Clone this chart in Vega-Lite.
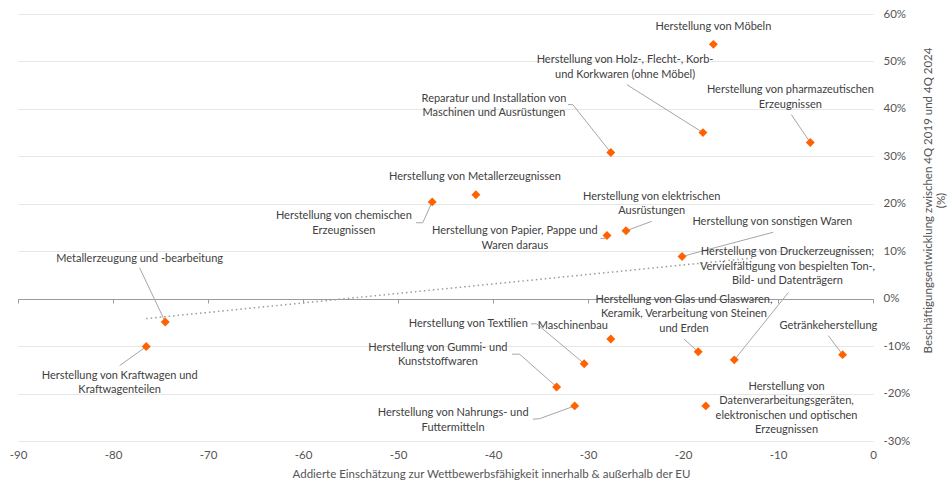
{
  "$schema": "https://vega.github.io/schema/vega-lite/v6.json",
  "width": 855,
  "height": 427,
  "autosize": {"type": "none"},
  "padding": {"left": 18, "top": 14, "right": 78, "bottom": 44},
  "background": "white",
  "config": {
    "view": {"stroke": null},
    "font": "Lato",
    "axis": {"labelFont": "Lato", "titleFont": "Lato"}
  },
  "datasets": {
    "points": [
      {"name": "Möbel", "x": -16.8, "y": 53.6, "label": "Herstellung von Möbeln", "lx": -16.8, "ly": 57.2},
      {"name": "Holz", "x": -17.9, "y": 35.0, "label": "Herstellung von Holz-, Flecht-, Korb-\nund Korkwaren (ohne Möbel)", "lx": -26.1, "ly": 50.2},
      {"name": "Pharma", "x": -6.6, "y": 32.9, "label": "Herstellung von pharmazeutischen\nErzeugnissen", "lx": -8.7, "ly": 43.9},
      {"name": "Reparatur", "x": -27.6, "y": 30.8, "label": "Reparatur und Installation von\nMaschinen und Ausrüstungen", "lx": -39.9, "ly": 42.1},
      {"name": "Metallerzeugnisse", "x": -41.8, "y": 21.9, "label": "Herstellung von Metallerzeugnissen", "lx": -41.9, "ly": 25.6},
      {"name": "Chemie", "x": -46.4, "y": 20.4, "label": "Herstellung von chemischen\nErzeugnissen", "lx": -55.7, "ly": 17.4},
      {"name": "Elektrisch", "x": -26.0, "y": 14.3, "label": "Herstellung von elektrischen\nAusrüstungen", "lx": -23.3, "ly": 21.5},
      {"name": "Papier", "x": -28.0, "y": 13.3, "label": "Herstellung von Papier, Pappe und\nWaren daraus", "lx": -37.7, "ly": 14.2},
      {"name": "Sonstige", "x": -20.1, "y": 8.9, "label": "Herstellung von sonstigen Waren", "lx": -10.6, "ly": 16.1},
      {"name": "Metallerzeugung", "x": -74.5, "y": -4.9, "label": "Metallerzeugung und -bearbeitung", "lx": -77.2, "ly": 8.4},
      {"name": "Kraftwagen", "x": -76.5, "y": -10.1, "label": "Herstellung von Kraftwagen und\nKraftwagenteilen", "lx": -79.3, "ly": -16.2},
      {"name": "Maschinenbau", "x": -27.6, "y": -8.5, "label": "Maschinenbau", "lx": -31.6, "ly": -5.8},
      {"name": "Textilien", "x": -30.4, "y": -13.7, "label": "Herstellung von Textilien", "lx": -42.6, "ly": -5.3},
      {"name": "Gummi", "x": -33.3, "y": -18.6, "label": "Herstellung von Gummi- und\nKunststoffwaren", "lx": -45.8, "ly": -10.3},
      {"name": "Nahrung", "x": -31.4, "y": -22.6, "label": "Herstellung von Nahrungs- und\nFuttermitteln", "lx": -44.2, "ly": -24.1},
      {"name": "Glas", "x": -18.4, "y": -11.2, "label": "Herstellung von Glas und Glaswaren,\nKeramik, Verarbeitung von Steinen\nund Erden", "lx": -19.9, "ly": -0.2},
      {"name": "Druck", "x": -14.6, "y": -12.9, "label": "Herstellung von Druckerzeugnissen;\nVervielfältigung von bespielten Ton-,\nBild- und Datenträgern", "lx": -9.0, "ly": 9.8},
      {"name": "Getränke", "x": -3.2, "y": -11.8, "label": "Getränkeherstellung", "lx": -4.7, "ly": -5.7},
      {"name": "Daten", "x": -17.6, "y": -22.6, "label": "Herstellung von\nDatenverarbeitungsgeräten,\nelektronischen und optischen\nErzeugnissen", "lx": -9.1, "ly": -18.6}
    ],
    "leaders": [
      {"name": "Holz", "o": 1, "x": -25.9, "y": 45.1}, {"name": "Holz", "o": 2, "x": -17.9, "y": 35.0},
      {"name": "Pharma", "o": 1, "x": -8.6, "y": 38.8}, {"name": "Pharma", "o": 2, "x": -6.6, "y": 32.9},
      {"name": "Reparatur", "o": 1, "x": -32.1, "y": 40.9}, {"name": "Reparatur", "o": 2, "x": -31.6, "y": 40.9}, {"name": "Reparatur", "o": 3, "x": -27.6, "y": 30.8},
      {"name": "Chemie", "o": 1, "x": -48.1, "y": 16.0}, {"name": "Chemie", "o": 2, "x": -47.4, "y": 16.0}, {"name": "Chemie", "o": 3, "x": -46.4, "y": 20.4},
      {"name": "Elektrisch", "o": 1, "x": -23.3, "y": 16.3}, {"name": "Elektrisch", "o": 2, "x": -26.0, "y": 14.3},
      {"name": "Papier", "o": 1, "x": -28.7, "y": 12.7}, {"name": "Papier", "o": 2, "x": -28.2, "y": 12.7}, {"name": "Papier", "o": 3, "x": -28.0, "y": 13.3},
      {"name": "Sonstige", "o": 1, "x": -10.5, "y": 14.0}, {"name": "Sonstige", "o": 2, "x": -20.1, "y": 8.9},
      {"name": "Metallerzeugung", "o": 1, "x": -77.2, "y": 6.5}, {"name": "Metallerzeugung", "o": 2, "x": -74.5, "y": -4.9},
      {"name": "Kraftwagen", "o": 1, "x": -79.3, "y": -14.1}, {"name": "Kraftwagen", "o": 2, "x": -76.5, "y": -10.1},
      {"name": "Textilien", "o": 1, "x": -36.0, "y": -5.3}, {"name": "Textilien", "o": 2, "x": -35.4, "y": -5.3}, {"name": "Textilien", "o": 3, "x": -30.4, "y": -13.7},
      {"name": "Gummi", "o": 1, "x": -38.0, "y": -11.7}, {"name": "Gummi", "o": 2, "x": -37.2, "y": -11.7}, {"name": "Gummi", "o": 3, "x": -33.3, "y": -18.6},
      {"name": "Nahrung", "o": 1, "x": -35.8, "y": -25.4}, {"name": "Nahrung", "o": 2, "x": -35.1, "y": -25.3}, {"name": "Nahrung", "o": 3, "x": -31.4, "y": -22.6},
      {"name": "Glas", "o": 1, "x": -19.9, "y": -8.5}, {"name": "Glas", "o": 2, "x": -18.4, "y": -11.2},
      {"name": "Druck", "o": 1, "x": -8.9, "y": 1.3}, {"name": "Druck", "o": 2, "x": -14.6, "y": -12.9},
      {"name": "Getränke", "o": 1, "x": -4.7, "y": -7.8}, {"name": "Getränke", "o": 2, "x": -3.2, "y": -11.8}
    ],
    "trend": [
      {"x": -76.5, "y": -4.2},
      {"x": -12.5, "y": 8.6}
    ]
  },
  "layer": [
    {
      "data": {"name": "trend"},
      "mark": {"type": "line", "color": "#9b9b9b", "strokeWidth": 1.5, "strokeDash": [1.5, 3]},
      "encoding": {
        "x": {
          "field": "x", "type": "quantitative",
          "scale": {"domain": [-90, 0], "nice": false, "zero": false},
          "axis": {
            "orient": "bottom", "offset": -142, "domain": true, "domainColor": "#9b9b9b", "domainWidth": 1,
            "ticks": true, "tickColor": "#9b9b9b", "tickSize": 4, "tickWidth": 1,
            "labels": false, "grid": false, "title": null,
            "values": [-90, -80, -70, -60, -50, -40, -30, -20, -10, 0]
          }
        },
        "y": {
          "field": "y", "type": "quantitative",
          "scale": {"domain": [-30, 60], "nice": false, "zero": false}
        }
      }
    },
    {
      "data": {"name": "leaders"},
      "mark": {"type": "line", "color": "#a6a6a6", "strokeWidth": 1},
      "encoding": {
        "x": {"field": "x", "type": "quantitative", "axis": null},
        "y": {"field": "y", "type": "quantitative"},
        "detail": {"field": "name"},
        "order": {"field": "o"}
      }
    },
    {
      "data": {"name": "points"},
      "mark": {"type": "point", "shape": "diamond", "filled": true, "size": 80, "color": "#FF6200", "opacity": 1},
      "encoding": {
        "x": {
          "field": "x", "type": "quantitative",
          "axis": {
            "orient": "bottom", "domain": false, "ticks": false, "tickSize": 0, "grid": false,
            "values": [-90, -80, -70, -60, -50, -40, -30, -20, -10, 0],
            "labelExpr": "'' + datum.value", "labelFlush": false,
            "labelFontSize": 11.5, "labelColor": "#555555", "labelPadding": 8,
            "title": "Addierte Einschätzung zur Wettbewerbsfähigkeit innerhalb & außerhalb der EU",
            "titleFontSize": 11.5, "titleFontWeight": "normal", "titleColor": "#555555",
            "titleX": 473, "titleY": 33, "titleBaseline": "middle"
          }
        },
        "y": {
          "field": "y", "type": "quantitative",
          "axis": {
            "orient": "right", "domain": false, "ticks": false, "grid": true, "gridColor": "#e6e6e6",
            "values": [-30, -20, -10, 0, 10, 20, 30, 40, 50, 60],
            "labelExpr": "datum.value + '%'", "labelAlign": "left", "labelPadding": 10,
            "labelFontSize": 11.5, "labelColor": "#555555",
            "title": ["Beschäftigungsentwicklung zwischen 4Q 2019 und 4Q 2024", "(%)"],
            "titleFontSize": 11.5, "titleFontWeight": "normal", "titleColor": "#555555",
            "titleAngle": 270, "titleAlign": "center", "titleBaseline": "middle",
            "titleX": 55, "titleY": 186, "titleLineHeight": 13
          }
        }
      }
    },
    {
      "data": {"name": "points"},
      "mark": {"type": "text", "align": "center", "baseline": "middle", "lineBreak": "\n", "lineHeight": 14.5, "fontSize": 11, "color": "#404040"},
      "encoding": {
        "x": {"field": "lx", "type": "quantitative", "axis": null},
        "y": {"field": "ly", "type": "quantitative"},
        "text": {"field": "label"}
      }
    }
  ],
  "resolve": {"axis": {"x": "independent"}}
}
